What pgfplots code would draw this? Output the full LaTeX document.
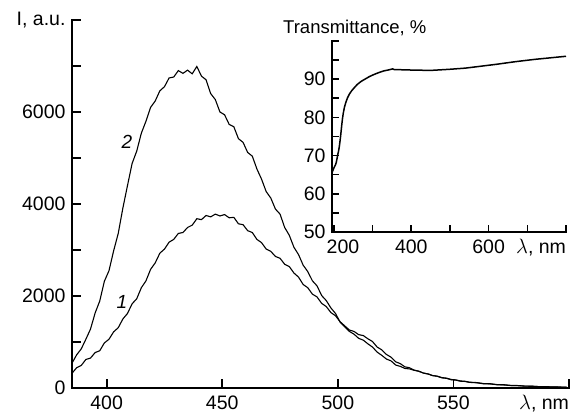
\documentclass[border=0pt]{standalone}
\usepackage{fontspec}
\setmainfont{Liberation Sans}
\usepackage{pgfplots}
\pgfplotsset{compat=1.18}

\pgfplotsset{
  myax/.style={
    scale only axis,
    axis lines*=left,
    axis line style={line width=2.2pt, line cap=rect},
    tick align=inside,
    tick style={line width=1.8pt, black},
    major tick length=9pt, minor tick length=9pt,
    tick label style={font=\fontsize{19.5}{23}\selectfont},
    xticklabel style={yshift=-4pt},
    yticklabel style={xshift=-3pt},
    clip=false,
  }
}

\begin{document}
\begin{tikzpicture}
\path[use as bounding box] (-72pt,-29pt) rectangle (499pt,388pt);

% main spectra
\begin{axis}[myax,
    width=497pt, height=368pt,
    xmin=385, xmax=600, ymin=0, ymax=8000,
    xtick={400,450,500,550,600},
    xticklabels={400,450,500,550,{\makebox[0pt][r]{$\lambda$, nm}}},
    ytick={0,2000,4000,6000,8000},
    yticklabels={0,2000,4000,6000,{I, a.u.}},
    minor ytick={1000,3000,5000,7000},
]
% curve 2
\addplot[black, line width=1.1pt] coordinates {
(385,540)(387,720)(389,850)(391,1060)(393,1280)(395,1630)(397,1890)(399,2320)
(401,2550)(403,2980)(405,3360)(407,3910)(409,4400)(411,4880)(413,5150)(415,5540)
(417,5800)(419,6100)(421,6240)(423,6460)(425,6550)(427,6740)(429,6760)(431,6900)
(433,6840)(435,6910)(437,6830)(439,6990)(441,6780)(443,6700)(445,6400)(447,6270)
(449,6000)(451,5940)(453,5730)(455,5680)(457,5420)(459,5340)(461,5120)(463,5040)
(465,4760)(467,4540)(469,4270)(471,4130)(473,3890)(475,3780)(477,3490)(479,3320)
(481,3060)(483,2900)(485,2670)(487,2530)(489,2330)(491,2220)(493,2010)(495,1900)
(497,1740)(499,1620)(501,1430)(503,1330)(505,1230)(507,1170)(509,1080)(511,1040)
(513,960)(515,890)(517,780)(519,710)(521,630)(523,590)(525,500)(527,470)
(529,425)(531,415)(533,385)(535,365)(537,325)(539,305)(541,270)(543,255)
(545,220)(547,210)(549,180)(551,172)(553,148)(555,142)(557,122)(560,114)
(563,92)(566,88)(569,70)(572,66)(575,52)(578,50)(581,40)(584,38)
(587,29)(590,28)(593,22)(596,20)(599,16)
};
% curve 1
\addplot[black, line width=1.1pt] coordinates {
(385,320)(387,440)(389,490)(391,620)(393,650)(395,770)(397,810)(399,980)
(401,1060)(403,1220)(405,1310)(407,1500)(409,1620)(411,1830)(413,1940)(415,2180)
(417,2330)(419,2580)(421,2720)(423,2930)(425,3020)(427,3170)(429,3230)(431,3360)
(433,3380)(435,3490)(437,3540)(439,3680)(441,3660)(443,3750)(445,3720)(447,3780)
(449,3740)(451,3770)(453,3700)(455,3710)(457,3570)(459,3550)(461,3420)(463,3380)
(465,3230)(467,3160)(469,3020)(471,2970)(473,2860)(475,2820)(477,2690)(479,2640)
(481,2500)(483,2410)(485,2250)(487,2180)(489,2040)(491,1980)(493,1840)(495,1770)
(497,1640)(499,1570)(501,1440)(503,1350)(505,1260)(507,1230)(509,1160)(511,1140)
(513,1070)(515,1010)(517,890)(519,830)(521,730)(523,670)(525,570)(527,530)
(529,460)(531,440)(533,390)(535,365)(537,325)(539,305)(541,270)(543,257)
(545,226)(547,214)(549,186)(551,176)(553,153)(555,146)(557,126)(560,118)
(563,96)(566,92)(569,73)(572,70)(575,55)(578,53)(581,41)(584,40)
(587,30)(590,30)(593,22)(596,22)(599,15)
};
\node[font=\fontsize{19}{23}\selectfont\itshape] at (axis cs:408.7,5348) {2};
\node[font=\fontsize{19}{23}\selectfont\itshape] at (axis cs:406.6,1870) {1};
\end{axis}

% inset: transmittance
\begin{axis}[myax,
    at={(260pt,156pt)}, anchor=south west,
    width=234pt, height=191pt,
    axis line style={line width=1.8pt},
    tick style={line width=1.6pt},
    major tick length=7pt, minor tick length=7pt,
    xmin=195, xmax=800, ymin=50, ymax=100,
    xtick={200,300,400,500,600,700,800},
    xticklabels={{\hspace*{18pt}200},,400,,600,,{\makebox[0pt][r]{$\lambda$, nm}}},
    ytick={50,60,70,80,90,100},
    yticklabels={50,60,70,80,90,},
    minor ytick={55,65,75,85,95},
]
\addplot[black, line width=1.5pt] coordinates {
(195,65.5)(198,66.3)(201,67.0)(204,67.6)(206,68.2)(208,69.2)(210,70.3)(212,71.2)
(214,72.4)(216,74.0)(218,75.8)(220,77.8)(222,79.6)(224,81.0)(227,82.6)(231,84.0)
(235,85.1)(240,86.1)(246,87.0)(252,87.7)(260,88.6)(270,89.4)(280,90.0)(292,90.7)
(305,91.3)(318,91.8)(330,92.2)(340,92.4)(348,92.6)(352,92.7)(356,92.5)(365,92.5)
(400,92.4)(450,92.3)(500,92.6)(540,92.9)(580,93.4)(620,93.9)(670,94.6)(720,95.2)
(760,95.6)(800,96.0)
};
\node[anchor=base west, inner sep=0pt, font=\fontsize{18.5}{22}\selectfont]
  at ([xshift=-49pt,yshift=7pt]rel axis cs:0,1) {Transmittance, \%};
\end{axis}
\end{tikzpicture}
\end{document}
